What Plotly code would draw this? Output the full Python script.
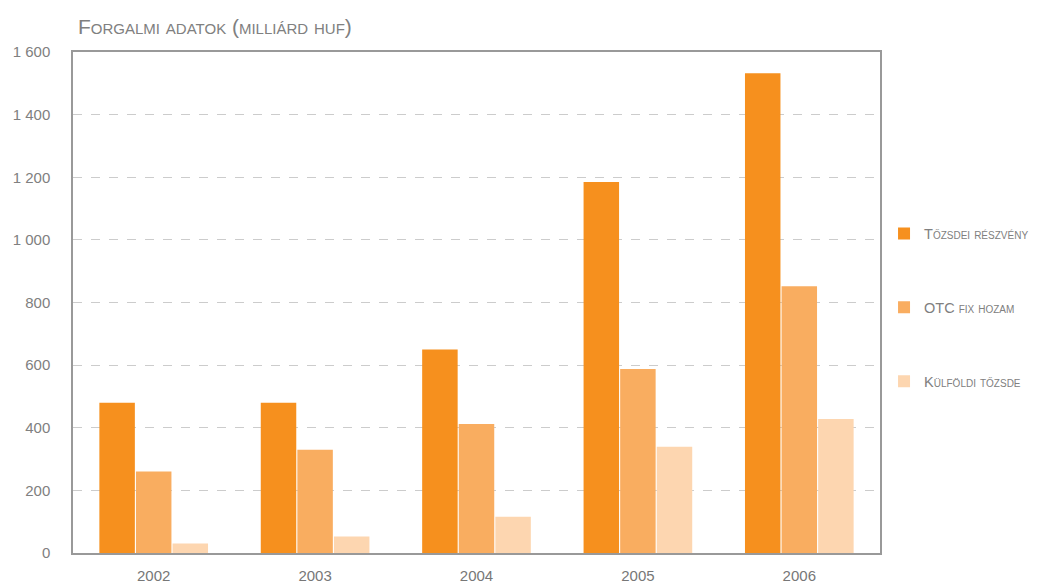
import plotly.graph_objects as go

years = ["2002", "2003", "2004", "2005", "2006"]
tozsdei = [480, 480, 650, 1185, 1532]
otc = [260, 330, 412, 588, 852]
kulfoldi = [30, 53, 116, 339, 428]

names = ["Tőzsdei részvény", "OTC fix hozam", "Külföldi tőzsde"]
colors = ["#F6901E", "#F9AD60", "#FDD6B0"]
series = [tozsdei, otc, kulfoldi]

FONT = "Liberation Sans, Arial, sans-serif"

fig = go.Figure()
for i, (n, c, v) in enumerate(zip(names, colors, series)):
    fig.add_trace(go.Bar(x=years, y=v, name=n, marker=dict(color=c, line=dict(width=0)),
                         legendgroup=str(i)))

fig.update_layout(
    width=1044, height=583,
    margin=dict(l=65, r=172, t=44, b=38, autoexpand=False),
    paper_bgcolor="white", plot_bgcolor="white",
    barmode="group", bargap=0.32, bargroupgap=0.03,
    separators=", ",
    font=dict(family=FONT, color="#777"),
    showlegend=True,
    legend=dict(x=1.005, xanchor="left", y=0.49, yanchor="middle",
                tracegroupgap=52, traceorder="grouped",
                font=dict(size=14.5, color="#808080", variant="small-caps", family=FONT),
                bgcolor="rgba(0,0,0,0)"),
    annotations=[dict(text="Forgalmi adatok (milliárd huf)", xref="paper", yref="paper",
                      x=0, y=1, xanchor="left", yanchor="bottom", xshift=3, yshift=12,
                      showarrow=False,
                      font=dict(size=21, color="#808080", variant="small-caps", family=FONT))],
)
fig.update_xaxes(showline=True, linecolor="#999", linewidth=1.5, mirror=True, automargin=False,
                 ticks="", tickfont=dict(size=15, color="#777"), ticklabelstandoff=8,
                 showgrid=False)
fig.update_yaxes(range=[0, 1600], dtick=200, tickformat=",d", automargin=False,
                 showline=True, linecolor="#999", linewidth=1.5, mirror=True,
                 showgrid=True, gridcolor="#cccccc", griddash="dash", gridwidth=1,
                 zeroline=False, ticks="", tickfont=dict(size=15, color="#808080"),
                 ticklabelstandoff=18)

fig.write_html("out.html")
